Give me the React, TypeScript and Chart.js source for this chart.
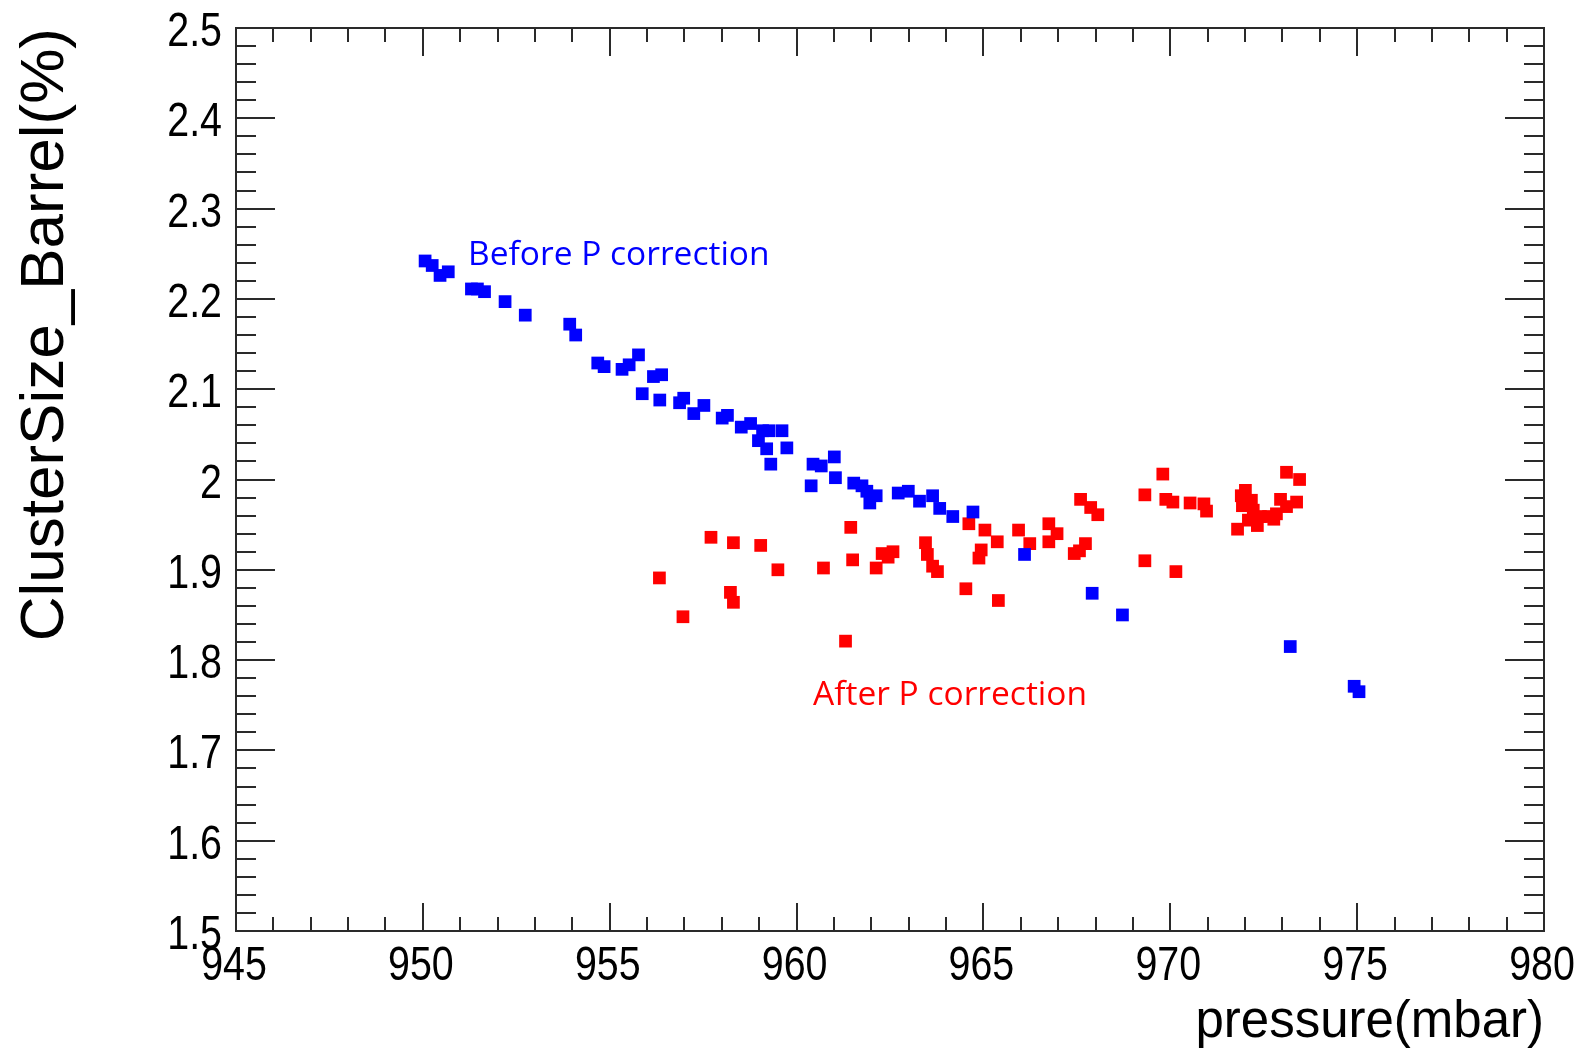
import React, { useEffect, useRef } from "react";
import { Chart, registerables } from "chart.js";

Chart.register(...registerables);

// ---------- data ----------
const blueX = [950.06, 950.25, 950.46, 950.68, 951.30, 951.46, 951.65, 952.20, 952.74, 953.93, 954.09, 954.68, 954.85, 955.33, 955.52, 955.77, 955.87, 956.17, 956.39, 956.34, 956.87, 956.98, 957.25, 957.52, 958.01, 958.15, 958.52, 958.77, 958.98, 959.09, 959.26, 959.20, 959.31, 959.61, 959.74, 960.39, 960.44, 960.66, 961.01, 961.04, 961.53, 961.75, 961.88, 961.96, 962.13, 962.72, 962.99, 963.29, 963.64, 963.83, 964.18, 964.72, 966.10, 967.91, 968.72, 973.21, 974.92, 975.05];
const blueY = [2.242, 2.237, 2.226, 2.230, 2.211, 2.211, 2.208, 2.197, 2.182, 2.172, 2.160, 2.129, 2.125, 2.122, 2.127, 2.138, 2.095, 2.114, 2.116, 2.088, 2.085, 2.090, 2.073, 2.082, 2.068, 2.071, 2.058, 2.062, 2.043, 2.054, 2.054, 2.034, 2.017, 2.054, 2.035, 1.993, 2.017, 2.015, 2.025, 2.002, 1.996, 1.993, 1.987, 1.974, 1.982, 1.985, 1.987, 1.976, 1.982, 1.968, 1.959, 1.964, 1.917, 1.874, 1.850, 1.815, 1.771, 1.765];

const redX = [956.33, 956.96, 957.71, 958.23, 958.31, 958.31, 959.04, 959.50, 960.72, 961.31, 961.45, 961.50, 962.13, 962.29, 962.45, 962.58, 963.45, 963.50, 963.64, 963.77, 964.53, 964.61, 964.88, 964.94, 965.04, 965.37, 965.40, 965.94, 966.24, 966.75, 966.75, 966.97, 967.43, 967.57, 967.73, 967.60, 967.87, 968.06, 969.32, 969.32, 969.80, 969.88, 970.07, 970.15, 970.53, 970.90, 970.97, 971.80, 971.90, 971.93, 972.01, 972.09, 972.17, 972.22, 972.33, 972.41, 972.63, 972.77, 972.84, 972.95, 973.11, 973.11, 973.46, 973.38];
const redY = [1.891, 1.848, 1.936, 1.875, 1.864, 1.930, 1.927, 1.900, 1.902, 1.821, 1.947, 1.911, 1.902, 1.918, 1.914, 1.920, 1.930, 1.917, 1.904, 1.898, 1.879, 1.951, 1.913, 1.922, 1.944, 1.931, 1.866, 1.944, 1.929, 1.951, 1.931, 1.940, 1.918, 1.921, 1.929, 1.978, 1.969, 1.961, 1.983, 1.910, 2.006, 1.978, 1.975, 1.898, 1.974, 1.973, 1.965, 1.945, 1.982, 1.971, 1.988, 1.955, 1.977, 1.966, 1.949, 1.959, 1.959, 1.956, 1.962, 1.978, 1.970, 2.008, 2.000, 1.975];

const xTickValues = [945, 950, 955, 960, 965, 970, 975, 980];
const yTickValues = [1.5, 1.6, 1.7, 1.8, 1.9, 2.0, 2.1, 2.2, 2.3, 2.4, 2.5];
const xTickLabels = ["945", "950", "955", "960", "965", "970", "975", "980"];
const yTickLabels = ["1.5", "1.6", "1.7", "1.8", "1.9", "2", "2.1", "2.2", "2.3", "2.4", "2.5"];
const xMinorStep = 1;
const yMinorStep = 0.02;

const xTitle = "pressure(mbar)";
const yTitle = "ClusterSize_Barrel(%)";
const beforeLabel = "Before P correction";
const afterLabel = "After P correction";
const beforeAnchor = [951.21, 2.2375];
const afterAnchor = [960.44, 1.7505];

const BLUE = "#0000ff";
const RED = "#ff0000";
const AXIS = "#2a2a2a";
const SANS = "'Liberation Sans', Arial, sans-serif";

const framePlugin = {
  id: "rootFrame",
  afterDatasetsDraw(chart: any) {
    const { ctx, chartArea: a, scales } = chart;
    const xs = scales.x;
    const ys = scales.y;
    ctx.save();
    ctx.strokeStyle = AXIS;
    ctx.lineWidth = 2;
    ctx.beginPath();
    const xMin = xTickValues[0];
    const xMax = xTickValues[xTickValues.length - 1];
    const nx = Math.round((xMax - xMin) / xMinorStep);
    for (let i = 0; i <= nx; i++) {
      const v = xMin + i * xMinorStep;
      const px = Math.round(xs.getPixelForValue(v));
      const len = i % 5 === 0 ? 28 : 14;
      ctx.moveTo(px, a.bottom);
      ctx.lineTo(px, a.bottom - len);
      ctx.moveTo(px, a.top);
      ctx.lineTo(px, a.top + len);
    }
    const yMin = yTickValues[0];
    const yMax = yTickValues[yTickValues.length - 1];
    const ny = Math.round((yMax - yMin) / yMinorStep);
    for (let i = 0; i <= ny; i++) {
      const v = yMin + i * yMinorStep;
      const py = Math.round(ys.getPixelForValue(v));
      const len = i % 5 === 0 ? 39 : 20;
      ctx.moveTo(a.left, py);
      ctx.lineTo(a.left + len, py);
      ctx.moveTo(a.right, py);
      ctx.lineTo(a.right - len, py);
    }
    ctx.stroke();
    ctx.strokeRect(a.left, a.top, a.right - a.left, a.bottom - a.top);

    // tick labels (condensed Helvetica look, as in the ROOT original)
    const squeeze = 0.82;
    ctx.fillStyle = "#000";
    ctx.font = `48px ${SANS}`;
    ctx.textBaseline = "alphabetic";
    ctx.textAlign = "center";
    xTickValues.forEach((v, i) => {
      const px = xs.getPixelForValue(v);
      ctx.save();
      ctx.translate(px - 2, a.bottom + 49);
      ctx.scale(squeeze, 1);
      ctx.fillText(xTickLabels[i], 0, 0);
      ctx.restore();
    });
    ctx.textAlign = "right";
    yTickValues.forEach((v, i) => {
      const py = ys.getPixelForValue(v);
      ctx.save();
      ctx.translate(a.left - 14, py + 18);
      ctx.scale(squeeze, 1);
      ctx.fillText(yTickLabels[i], 0, 0);
      ctx.restore();
    });

    // annotations
    ctx.font = "33.5px 'Open Sans', Lato, sans-serif";
    ctx.textBaseline = "alphabetic";
    ctx.textAlign = "left";
    ctx.fillStyle = BLUE;
    ctx.fillText(beforeLabel, xs.getPixelForValue(beforeAnchor[0]), ys.getPixelForValue(beforeAnchor[1]));
    ctx.fillStyle = RED;
    ctx.fillText(afterLabel, xs.getPixelForValue(afterAnchor[0]), ys.getPixelForValue(afterAnchor[1]));
    ctx.restore();
  },
};

export default function App() {
  const ref = useRef<HTMLCanvasElement | null>(null);

  useEffect(() => {
    document.body.style.margin = "0";
    const canvas = ref.current;
    if (!canvas) return;
    const zeroPad = (s: any) => {
      s.paddingTop = 0;
      s.paddingBottom = 0;
      s.paddingLeft = 0;
      s.paddingRight = 0;
    };
    const chart = new Chart(canvas, {
      type: "scatter",
      data: {
        datasets: [
          {
            label: "Before P correction",
            data: blueX.map((x, i) => ({ x, y: blueY[i] })),
            backgroundColor: BLUE,
            borderWidth: 0,
            pointStyle: "rect",
            pointRadius: 9,
          },
          {
            label: "After P correction",
            data: redX.map((x, i) => ({ x, y: redY[i] })),
            backgroundColor: RED,
            borderWidth: 0,
            pointStyle: "rect",
            pointRadius: 9,
          },
        ],
      },
      options: {
        animation: false,
        responsive: false,
        devicePixelRatio: 1,
        layout: { padding: { top: 28, right: 42, left: 0, bottom: 0 } },
        plugins: {
          legend: { display: false },
          tooltip: { enabled: false },
          title: { display: false },
        },
        scales: {
          x: {
            type: "linear",
            min: 945,
            max: 980,
            afterFit: (s: any) => {
              s.height = 127;
              zeroPad(s);
            },
            afterBuildTicks: (s: any) => {
              s.ticks = xTickValues.map((v) => ({ value: v }));
            },
            grid: { display: false, drawTicks: false },
            border: { display: false },
            ticks: { display: false },
            title: {
              display: true,
              text: xTitle,
              align: "end",
              color: "#000",
              font: { family: SANS, size: 51, lineHeight: 1 },
              padding: { top: 0, bottom: 10 },
            },
          },
          y: {
            type: "linear",
            min: 1.5,
            max: 2.5,
            afterFit: (s: any) => {
              s.width = 236;
              zeroPad(s);
            },
            afterBuildTicks: (s: any) => {
              s.ticks = yTickValues.map((v) => ({ value: v }));
            },
            grid: { display: false, drawTicks: false },
            border: { display: false },
            ticks: { display: false },
            title: {
              display: true,
              text: yTitle,
              align: "end",
              color: "#000",
              font: { family: SANS, size: 62, lineHeight: 1 },
              padding: { top: 15, bottom: 0 },
            },
          },
        },
      },
      plugins: [framePlugin],
    } as any);
    return () => chart.destroy();
  }, []);

  return (
    <div style={{ position: "absolute", left: 0, top: 0, width: 1586, height: 1058, background: "#fff" }}>
      <canvas ref={ref} width={1586} height={1058} style={{ display: "block" }} />
    </div>
  );
}
